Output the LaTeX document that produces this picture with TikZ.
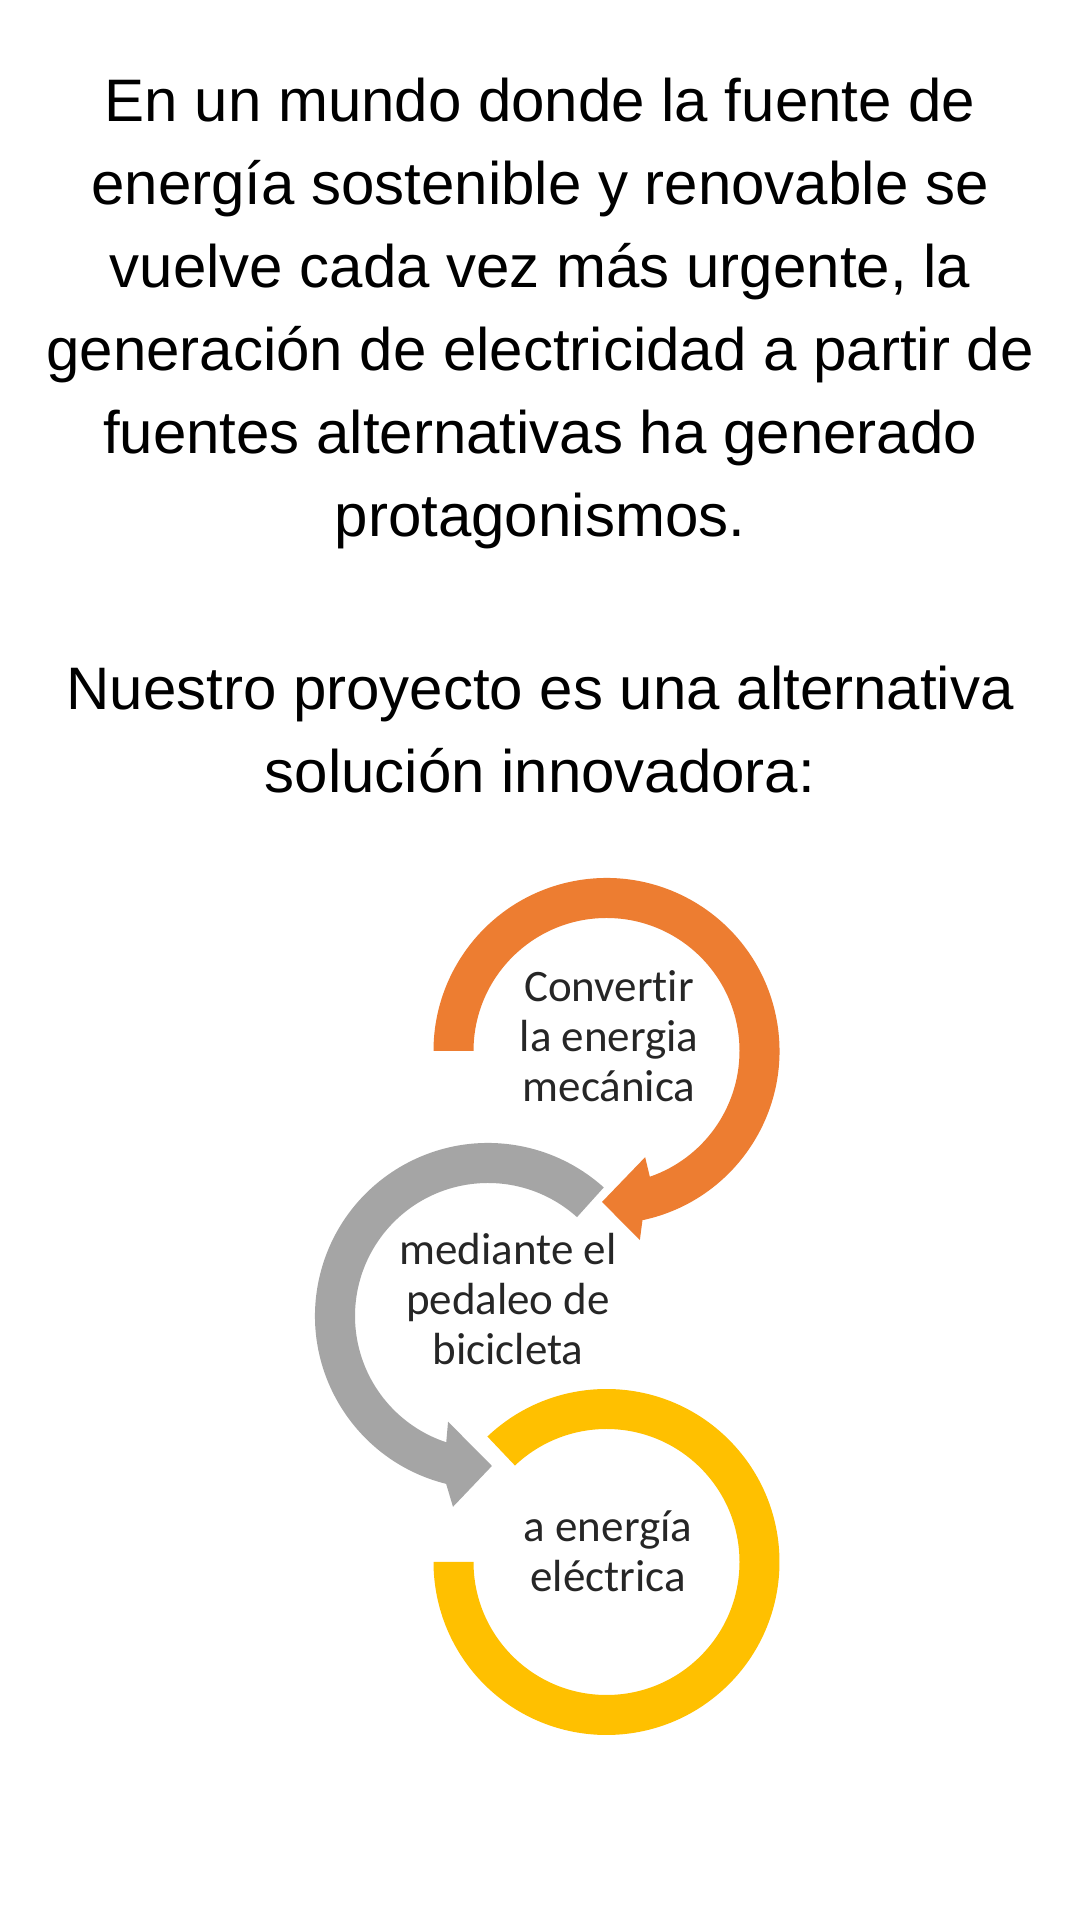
\documentclass[tikz,border=0pt]{standalone}
\usepackage{fontspec}
\setmainfont{Liberation Sans}
\newfontfamily\cyclefont[Ligatures=NoCommon]{Carlito}
\usepackage{xcolor}
\usetikzlibrary{calc}

\definecolor{ringorange}{HTML}{ED7D31}
\definecolor{ringgray}{HTML}{A5A5A5}
\definecolor{ringyellow}{HTML}{FFC000}

\begin{document}
\begin{tikzpicture}[
    x=1pt, y=1pt,
    lead/.style={align=center, anchor=base, inner sep=0pt, font=\fontsize{60}{83}\selectfont},
    cyctext/.style={align=center, anchor=base, inner sep=0pt, text=black!85, font=\cyclefont\fontsize{45}{50}\selectfont},
]
\useasboundingbox (0,0) rectangle (1080,1920);
\fill[white] (0,0) rectangle (1080,1920);

% text above the cycle (base = last line)
\node[lead] (intro) at (540,1383) {En un mundo donde la fuente de\\energía sostenible y renovable se\\vuelve cada vez más urgente, la\\generación de electricidad a partir de\\fuentes alternativas ha generado\\protagonismos.};
\node[lead] (project) at (540,1127) {Nuestro proyecto es una alternativa\\solución innovadora:};

% ring centres
\coordinate (oc) at (606.5,869);
\coordinate (gc) at (488,604);
\coordinate (yc) at (606.5,358);

% orange arrow
\fill[ringorange] ($(oc)+(180:133)$) arc[start angle=180, end angle=-71, radius=133]
    -- ($(oc)+(-70:113)$) -- ($(oc)+(-91.7:151)$) -- ($(oc)+(-80:192)$)
    -- ($(oc)+(-78:173)$) arc[start angle=-78, end angle=180, radius=173] -- cycle;
% gray arrow
\fill[ringgray] ($(gc)+(48:133)$) arc[start angle=48, end angle=251.7, radius=133]
    -- ($(gc)+(249.3:113)$) -- ($(gc)+(271.5:150)$) -- ($(gc)+(259.6:194)$)
    -- ($(gc)+(256:173)$) arc[start angle=256, end angle=48, radius=173] -- cycle;
% yellow ring
\fill[ringyellow] ($(yc)+(180:133)$) arc[start angle=180, end angle=493.5, radius=133]
    -- ($(yc)+(133.5:173)$) arc[start angle=493.5, end angle=180, radius=173] -- cycle;

\node[cyctext] (convert) at (609,818) {Convertir\\la energia\\mecánica};
\node[cyctext] (pedal) at (508,555) {mediante el\\pedaleo de\\bicicleta};
\node[cyctext] (electric) at (608,328) {a energía\\eléctrica};
\end{tikzpicture}
\end{document}
